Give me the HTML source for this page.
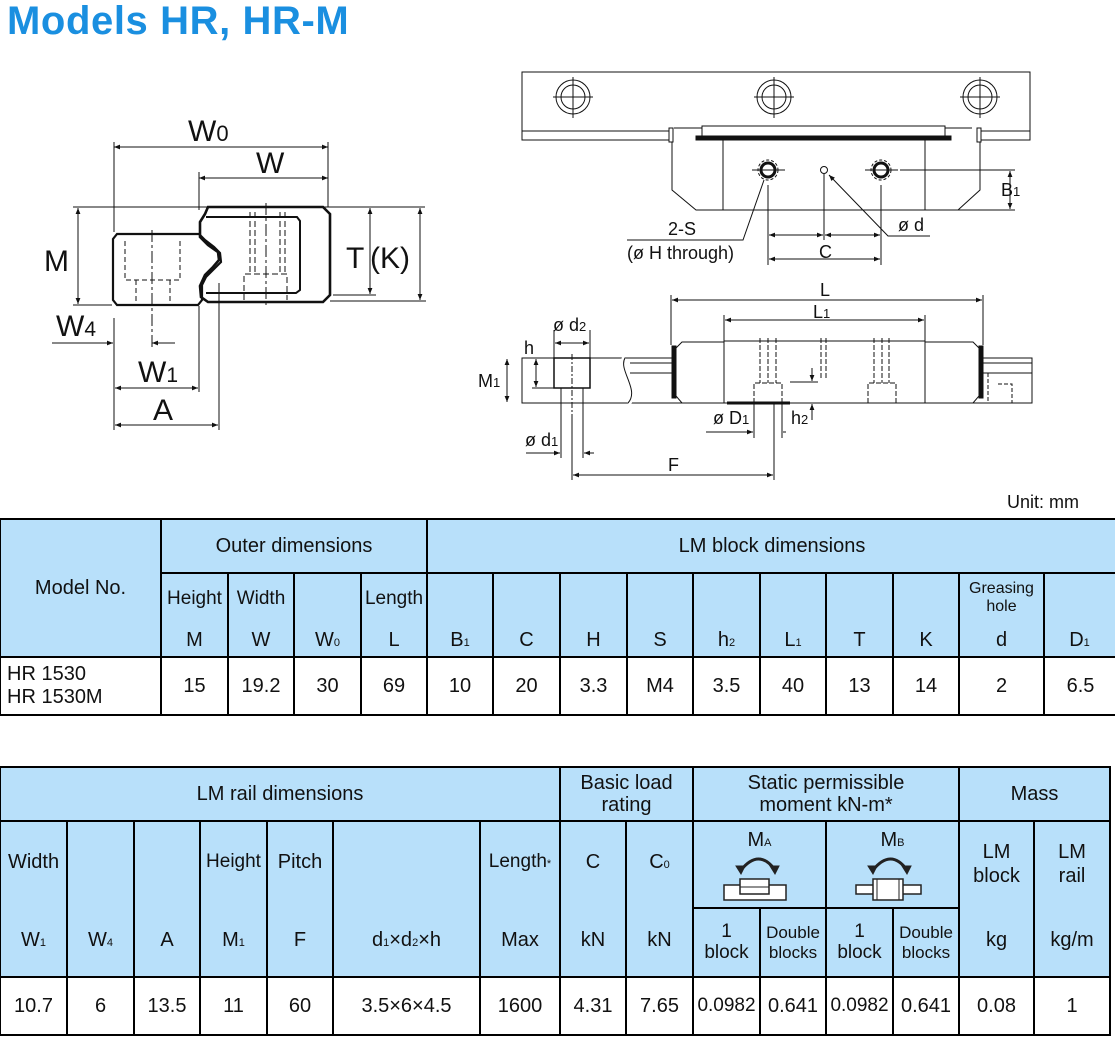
<!DOCTYPE html>
<html><head><meta charset="utf-8"><style>
body{margin:0;width:1115px;height:1042px;background:#fff;position:relative;overflow:hidden;font-family:"Liberation Sans",Arial,sans-serif;color:#111}
.c{position:absolute;box-sizing:border-box;border:2px solid #000;display:flex;align-items:center;justify-content:center;text-align:center;font-size:20px;line-height:1.1}
.h{background:#b8e0fa}
.t{position:absolute;font-size:20px;text-align:center;white-space:nowrap;line-height:1}
.s{font-size:11px}
.sm{font-size:17px}
</style></head><body>
<div style="position:absolute;left:7px;top:-1px;font-size:40px;font-weight:bold;color:#1a8fe0;letter-spacing:0.6px">Models HR<span>,</span> HR-M</div>
<div class="t" style="left:1007px;top:493px;font-size:18px">Unit: mm</div>

<svg width="1115" height="510" style="position:absolute;left:0;top:0" font-family="Liberation Sans, Arial, sans-serif" fill="none" stroke="#111" stroke-width="1">
<defs><marker id="a" viewBox="0 0 10 10" refX="10" refY="5" markerWidth="9" markerHeight="6" orient="auto-start-reverse"><path d="M0,1 L10,5 L0,9z" fill="#111" stroke="none"/></marker></defs>
<!-- LEFT DRAWING -->
<g>
<line x1="114" y1="147" x2="328" y2="147" marker-start="url(#a)" marker-end="url(#a)"/>
<line x1="199" y1="178" x2="328" y2="178" marker-start="url(#a)" marker-end="url(#a)"/>
<line x1="114" y1="142" x2="114" y2="232"/><line x1="328" y1="142" x2="328" y2="207"/>
<line x1="199" y1="172" x2="199" y2="210"/>
<line x1="73" y1="207" x2="425" y2="207"/>
<line x1="73" y1="305" x2="112" y2="305"/>
<line x1="78" y1="208" x2="78" y2="304" marker-start="url(#a)" marker-end="url(#a)"/>
<line x1="333" y1="295" x2="376" y2="295"/><line x1="330" y1="301" x2="426" y2="301"/>
<line x1="370" y1="208" x2="370" y2="294" marker-start="url(#a)" marker-end="url(#a)"/>
<line x1="420" y1="208" x2="420" y2="300" marker-start="url(#a)" marker-end="url(#a)"/>
<path d="M117,234 L199,234 L205,240 L214,247 L220,253 L221,262 L214,269 L206,277 L202,285 L202,300 L198,305 L117,305 L113,300 L113,239 Z" stroke-width="2.2"/>
<path d="M125,241 V280 H180 V241" stroke-dasharray="5,3"/>
<path d="M136,280 V304 M170,280 V304" stroke-dasharray="5,3"/>
<line x1="152" y1="230" x2="152" y2="348" stroke-dasharray="12,3,3,3"/>
<path d="M208,207 L323,207 L330,214 L330,295 L323,302 L208,302 L201,297 L200,286 L205,275 L213,267 L219,260 L218,252 L208,245 L200,237 L200,222 L205,214 Z" stroke-width="2.6"/>
<path d="M206,217 L297,217 L300,221 L300,290 L296,293 L206,293" stroke-width="2"/>
<path d="M250,212 V273 M255,212 V273 M280,212 V273 M285,212 V273" stroke-dasharray="6,3"/>
<path d="M244,300 V274 H287 V300" stroke-dasharray="6,3"/>
<line x1="266" y1="203" x2="266" y2="306" stroke-dasharray="12,3,3,3"/>
<line x1="114" y1="318" x2="114" y2="430"/>
<line x1="199" y1="306" x2="199" y2="392"/>
<line x1="219" y1="283" x2="219" y2="430"/>
<line x1="52" y1="343" x2="113" y2="343" marker-end="url(#a)"/>
<line x1="152" y1="343" x2="175" y2="343" marker-start="url(#a)"/>
<line x1="115" y1="388" x2="198" y2="388" marker-start="url(#a)" marker-end="url(#a)"/>
<line x1="115" y1="425" x2="218" y2="425" marker-start="url(#a)" marker-end="url(#a)"/>
</g>
<g fill="#111" stroke="none" font-size="30">
<text x="188" y="141">W<tspan font-size="22">0</tspan></text>
<text x="256" y="173">W</text>
<text x="44" y="271">M</text>
<text x="346" y="268">T</text><text x="370" y="268">(K)</text>
<text x="56" y="336">W<tspan font-size="21">4</tspan></text>
<text x="138" y="382">W<tspan font-size="21">1</tspan></text>
<text x="153" y="420">A</text>
</g>
<!-- TOP RIGHT -->
<g>
<rect x="522" y="72" width="508" height="68"/>
<line x1="522" y1="131" x2="1030" y2="131"/>
<circle cx="573" cy="97" r="17"/><circle cx="573" cy="97" r="12"/><line x1="553" y1="97" x2="593" y2="97"/><line x1="573" y1="77" x2="573" y2="118"/>
<circle cx="774" cy="97" r="17"/><circle cx="774" cy="97" r="12"/><line x1="754" y1="97" x2="794" y2="97"/><line x1="774" y1="77" x2="774" y2="118"/>
<circle cx="980" cy="97" r="17"/><circle cx="980" cy="97" r="12"/><line x1="960" y1="97" x2="1000" y2="97"/><line x1="980" y1="77" x2="980" y2="118"/>
<path d="M672,128 L672,190 L696,210 L958,210 L980,190 L980,128" fill="#fff"/>
<path d="M674,128 L972,128" />
<rect x="669" y="128" width="4" height="14" fill="#fff"/><rect x="977" y="128" width="4" height="14" fill="#fff"/>
<rect x="702" y="126" width="243" height="10" fill="#fff"/>
<rect x="696" y="136" width="255" height="4" fill="#111"/>
<rect x="723" y="140" width="202" height="70" fill="#fff"/>
<circle cx="768" cy="170" r="7" stroke-width="3"/><circle cx="768" cy="170" r="10" stroke-dasharray="3,2"/>
<circle cx="881" cy="170" r="7" stroke-width="3"/><circle cx="881" cy="170" r="10" stroke-dasharray="3,2"/>
<circle cx="824" cy="170" r="3.5"/>
<line x1="752" y1="170" x2="785" y2="170"/><line x1="865" y1="170" x2="898" y2="170"/>
<line x1="768" y1="185" x2="768" y2="265"/><line x1="881" y1="185" x2="881" y2="265"/><line x1="824" y1="174" x2="824" y2="240"/>
<line x1="900" y1="170" x2="1015" y2="170"/><line x1="930" y1="210" x2="1015" y2="210"/>
<line x1="1010" y1="171" x2="1010" y2="209" marker-start="url(#a)" marker-end="url(#a)"/>
<line x1="769" y1="235" x2="823" y2="235" marker-start="url(#a)" marker-end="url(#a)"/>
<line x1="825" y1="235" x2="880" y2="235" marker-start="url(#a)" marker-end="url(#a)"/>
<line x1="769" y1="259" x2="880" y2="259" marker-start="url(#a)" marker-end="url(#a)"/>
<polyline points="829,175 888,236 930,236" marker-start="url(#a)"/>
<polyline points="627,240 743,240 764,180"/>
</g>
<g fill="#111" stroke="none" font-size="18">
<text x="1001" y="196">B<tspan font-size="13">1</tspan></text>
<text x="898" y="231">ø d</text>
<text x="819" y="258">C</text>
<text x="668" y="235">2-S</text>
<text x="627" y="259">(ø H through)</text>
</g>
<!-- BOTTOM RIGHT -->
<g>
<line x1="671" y1="295" x2="671" y2="345"/><line x1="983" y1="295" x2="983" y2="345"/>
<line x1="672" y1="300" x2="982" y2="300" marker-start="url(#a)" marker-end="url(#a)"/>
<line x1="724" y1="315" x2="724" y2="341"/><line x1="925" y1="315" x2="925" y2="341"/>
<line x1="725" y1="320" x2="924" y2="320" marker-start="url(#a)" marker-end="url(#a)"/>
<rect x="522" y="358" width="510" height="45"/>
<path d="M625,358 C618,370 640,390 628,403" fill="#fff" stroke="#fff" stroke-width="6"/>
<path d="M625,358 C618,370 640,390 628,403"/>
<path d="M630,363 L672,363 M630,373 L672,373 M983,363 L1032,363 M983,373 L1032,373"/>
<path d="M676,348 L682,342 L724,342 L724,403 L682,403 L676,396 Z" fill="#fff"/>
<path d="M979,348 L973,342 L925,342 L925,403 L973,403 L979,396 Z" fill="#fff"/>
<rect x="724" y="341" width="201" height="62" fill="#fff"/>
<rect x="672" y="346" width="4" height="52" fill="#111"/><rect x="979" y="346" width="4" height="52" fill="#111"/>
<path d="M760,338 V383 M768,338 V383 M776,338 V383 M874,338 V383 M882,338 V383 M889,338 V383" stroke-dasharray="5,2"/>
<path d="M754,403 V383 H782 V403 M868,403 V383 H896 V403" stroke-dasharray="5,2"/>
<path d="M821,338 V378 M826,338 V378" stroke-dasharray="5,2"/>
<path d="M988,373 V403 M998,384 H1012 V403" stroke-dasharray="4,2"/>
<line x1="727" y1="403" x2="790" y2="403" stroke-width="3"/>
<line x1="554" y1="330" x2="554" y2="373"/><line x1="590" y1="330" x2="590" y2="373"/>
<line x1="555" y1="343" x2="589" y2="343" marker-start="url(#a)" marker-end="url(#a)"/>
<rect x="554" y="358" width="36" height="30" stroke-width="1.5"/>
<rect x="561" y="388" width="22" height="15"/>
<line x1="572" y1="354" x2="572" y2="420" stroke-dasharray="6,2,2,2"/>
<line x1="532" y1="388" x2="554" y2="388"/>
<line x1="536" y1="359" x2="536" y2="387" marker-start="url(#a)" marker-end="url(#a)"/>
<line x1="507" y1="359" x2="507" y2="402" marker-start="url(#a)" marker-end="url(#a)"/>
<line x1="561" y1="403" x2="561" y2="458"/><line x1="583" y1="403" x2="583" y2="458"/>
<line x1="526" y1="453" x2="560" y2="453" marker-end="url(#a)"/><line x1="584" y1="453" x2="594" y2="453" marker-start="url(#a)"/>
<line x1="572" y1="420" x2="572" y2="480"/>
<line x1="774" y1="403" x2="774" y2="480"/>
<line x1="573" y1="475" x2="773" y2="475" marker-start="url(#a)" marker-end="url(#a)"/>
<line x1="754" y1="403" x2="754" y2="438"/><line x1="782" y1="403" x2="782" y2="438"/>
<line x1="706" y1="432" x2="753" y2="432" marker-end="url(#a)"/><line x1="783" y1="432" x2="786" y2="432"/>
<line x1="790" y1="382" x2="818" y2="382"/>
<line x1="812" y1="368" x2="812" y2="381" marker-end="url(#a)"/>
<line x1="812" y1="420" x2="812" y2="404" marker-end="url(#a)"/>
</g>
<g fill="#111" stroke="none" font-size="18">
<text x="820" y="296">L</text>
<text x="813" y="318">L<tspan font-size="13">1</tspan></text>
<text x="553" y="331">ø d<tspan font-size="13">2</tspan></text>
<text x="524" y="354">h</text>
<text x="478" y="387">M<tspan font-size="13">1</tspan></text>
<text x="525" y="446">ø d<tspan font-size="13">1</tspan></text>
<text x="713" y="424">ø D<tspan font-size="13">1</tspan></text>
<text x="791" y="424">h<tspan font-size="13">2</tspan></text>
<text x="668" y="471">F</text>
</g>
</svg>

<!-- TABLE 1 -->
<div class="c h" style="left:-1px;top:518px;width:163px;height:140px">Model No.</div>
<div class="c h" style="left:160px;top:518px;width:268px;height:56px">Outer dimensions</div>
<div class="c h" style="left:426px;top:518px;width:692px;height:56px">LM block dimensions</div>

<div class="c h" style="left:160px;top:572px;width:69px;height:86px"></div><div class="t" style="left:161px;width:67px;top:589px;font-size:19px">Height</div><div class="t" style="left:161px;width:67px;top:630px">M</div>
<div class="c h" style="left:227px;top:572px;width:68px;height:86px"></div><div class="t" style="left:228px;width:66px;top:589px;font-size:19px">Width</div><div class="t" style="left:228px;width:66px;top:630px">W</div>
<div class="c h" style="left:293px;top:572px;width:69px;height:86px"></div><div class="t" style="left:294px;width:67px;top:630px">W<span class="s">0</span></div>
<div class="c h" style="left:360px;top:572px;width:68px;height:86px"></div><div class="t" style="left:361px;width:66px;top:589px;font-size:19px">Length</div><div class="t" style="left:361px;width:66px;top:630px">L</div>
<div class="c h" style="left:426px;top:572px;width:68px;height:86px"></div><div class="t" style="left:427px;width:66px;top:630px">B<span class="s">1</span></div>
<div class="c h" style="left:492px;top:572px;width:69px;height:86px"></div><div class="t" style="left:493px;width:67px;top:630px">C</div>
<div class="c h" style="left:559px;top:572px;width:69px;height:86px"></div><div class="t" style="left:560px;width:67px;top:630px">H</div>
<div class="c h" style="left:626px;top:572px;width:68px;height:86px"></div><div class="t" style="left:627px;width:66px;top:630px">S</div>
<div class="c h" style="left:692px;top:572px;width:69px;height:86px"></div><div class="t" style="left:693px;width:67px;top:630px">h<span class="s">2</span></div>
<div class="c h" style="left:759px;top:572px;width:68px;height:86px"></div><div class="t" style="left:760px;width:66px;top:630px">L<span class="s">1</span></div>
<div class="c h" style="left:825px;top:572px;width:69px;height:86px"></div><div class="t" style="left:826px;width:67px;top:630px">T</div>
<div class="c h" style="left:892px;top:572px;width:68px;height:86px"></div><div class="t" style="left:893px;width:66px;top:630px">K</div>
<div class="c h" style="left:958px;top:572px;width:87px;height:86px"></div><div class="t" style="left:959px;width:85px;top:580px;font-size:16px;line-height:1.15">Greasing<br>hole</div><div class="t" style="left:959px;width:85px;top:630px">d</div>
<div class="c h" style="left:1043px;top:572px;width:75px;height:86px"></div><div class="t" style="left:1044px;width:71px;top:630px">D<span class="s">1</span></div>

<div class="c" style="left:-1px;top:656px;width:163px;height:60px;justify-content:flex-start;text-align:left;padding-left:6px;line-height:1.15">HR 1530<br>HR 1530M</div>
<div class="c" style="left:160px;top:656px;width:69px;height:60px">15</div>
<div class="c" style="left:227px;top:656px;width:68px;height:60px">19.2</div>
<div class="c" style="left:293px;top:656px;width:69px;height:60px">30</div>
<div class="c" style="left:360px;top:656px;width:68px;height:60px">69</div>
<div class="c" style="left:426px;top:656px;width:68px;height:60px">10</div>
<div class="c" style="left:492px;top:656px;width:69px;height:60px">20</div>
<div class="c" style="left:559px;top:656px;width:69px;height:60px">3.3</div>
<div class="c" style="left:626px;top:656px;width:68px;height:60px">M4</div>
<div class="c" style="left:692px;top:656px;width:69px;height:60px">3.5</div>
<div class="c" style="left:759px;top:656px;width:68px;height:60px">40</div>
<div class="c" style="left:825px;top:656px;width:69px;height:60px">13</div>
<div class="c" style="left:892px;top:656px;width:68px;height:60px">14</div>
<div class="c" style="left:958px;top:656px;width:87px;height:60px">2</div>
<div class="c" style="left:1043px;top:656px;width:75px;height:60px">6.5</div>

<!-- TABLE 2 -->
<div class="c h" style="left:-1px;top:766px;width:562px;height:56px">LM rail dimensions</div>
<div class="c h" style="left:559px;top:766px;width:135px;height:56px">Basic load<br>rating</div>
<div class="c h" style="left:692px;top:766px;width:268px;height:56px">Static permissible<br>moment kN-m*</div>
<div class="c h" style="left:958px;top:766px;width:153px;height:56px">Mass</div>

<div class="c h" style="left:-1px;top:820px;width:69px;height:158px"></div><div class="t" style="left:0;width:67px;top:852px">Width</div><div class="t" style="left:0;width:67px;top:930px">W<span class="s">1</span></div>
<div class="c h" style="left:66px;top:820px;width:69px;height:158px"></div><div class="t" style="left:67px;width:67px;top:930px">W<span class="s">4</span></div>
<div class="c h" style="left:133px;top:820px;width:68px;height:158px"></div><div class="t" style="left:134px;width:66px;top:930px">A</div>
<div class="c h" style="left:199px;top:820px;width:69px;height:158px"></div><div class="t" style="left:200px;width:67px;top:852px;font-size:19px">Height</div><div class="t" style="left:200px;width:67px;top:930px">M<span class="s">1</span></div>
<div class="c h" style="left:266px;top:820px;width:68px;height:158px"></div><div class="t" style="left:267px;width:66px;top:852px">Pitch</div><div class="t" style="left:267px;width:66px;top:930px">F</div>
<div class="c h" style="left:332px;top:820px;width:149px;height:158px"></div><div class="t" style="left:333px;width:147px;top:930px">d<span class="s">1</span>×d<span class="s">2</span>×h</div>
<div class="c h" style="left:479px;top:820px;width:82px;height:158px"></div><div class="t" style="left:480px;width:80px;top:852px;font-size:19px">Length<span class="s">*</span></div><div class="t" style="left:480px;width:80px;top:930px">Max</div>
<div class="c h" style="left:559px;top:820px;width:68px;height:158px"></div><div class="t" style="left:560px;width:66px;top:852px">C</div><div class="t" style="left:560px;width:66px;top:930px">kN</div>
<div class="c h" style="left:625px;top:820px;width:69px;height:158px"></div><div class="t" style="left:626px;width:67px;top:852px">C<span class="s">0</span></div><div class="t" style="left:626px;width:67px;top:930px">kN</div>

<div class="c h" style="left:692px;top:820px;width:135px;height:89px"></div>
<div class="c h" style="left:825px;top:820px;width:135px;height:89px"></div>
<div class="t" style="left:693px;width:133px;top:830px">M<span class="s">A</span></div>
<div class="t" style="left:826px;width:133px;top:830px">M<span class="s">B</span></div>
<svg width="1115" height="1042" style="position:absolute;left:0;top:0" fill="none" stroke="#222">
<path d="M741,870 Q759,848 775,870" stroke-width="3"/><path d="M736,866 L741,874 L745,866Z M770,866 L775,874 L779,866Z" fill="#222" stroke-width="1"/>
<rect x="724" y="885" width="62" height="15" fill="#fff" stroke-width="1.5"/>
<rect x="740" y="879" width="29" height="15" fill="#fff" stroke-width="1.5"/><line x1="740" y1="887" x2="769" y2="887"/>
<path d="M873,870 Q891,848 907,870" stroke-width="3"/><path d="M868,866 L873,874 L877,866Z M902,866 L907,874 L911,866Z" fill="#222" stroke-width="1"/>
<rect x="856" y="885" width="65" height="9" fill="#fff" stroke-width="1.5"/>
<rect x="873" y="879" width="30" height="21" fill="#fff" stroke-width="1.5"/>
<line x1="877" y1="879" x2="877" y2="900"/><line x1="899" y1="879" x2="899" y2="900"/>
</svg>
<div class="c h" style="left:692px;top:907px;width:69px;height:71px;font-size:19px">1<br>block</div>
<div class="c h" style="left:759px;top:907px;width:68px;height:71px;font-size:17px;line-height:1.15">Double<br>blocks</div>
<div class="c h" style="left:825px;top:907px;width:69px;height:71px;font-size:19px">1<br>block</div>
<div class="c h" style="left:892px;top:907px;width:68px;height:71px;font-size:17px;line-height:1.15">Double<br>blocks</div>

<div class="c h" style="left:958px;top:820px;width:77px;height:158px"></div><div class="t" style="left:959px;width:75px;top:840px;line-height:1.2">LM<br>block</div><div class="t" style="left:959px;width:75px;top:930px">kg</div>
<div class="c h" style="left:1033px;top:820px;width:78px;height:158px"></div><div class="t" style="left:1034px;width:76px;top:840px;line-height:1.2">LM<br>rail</div><div class="t" style="left:1034px;width:76px;top:930px">kg/m</div>

<div class="c" style="left:-1px;top:976px;width:69px;height:60px">10.7</div>
<div class="c" style="left:66px;top:976px;width:69px;height:60px">6</div>
<div class="c" style="left:133px;top:976px;width:68px;height:60px">13.5</div>
<div class="c" style="left:199px;top:976px;width:69px;height:60px">11</div>
<div class="c" style="left:266px;top:976px;width:68px;height:60px">60</div>
<div class="c" style="left:332px;top:976px;width:149px;height:60px">3.5×6×4.5</div>
<div class="c" style="left:479px;top:976px;width:82px;height:60px">1600</div>
<div class="c" style="left:559px;top:976px;width:68px;height:60px">4.31</div>
<div class="c" style="left:625px;top:976px;width:69px;height:60px">7.65</div>
<div class="c" style="left:692px;top:976px;width:69px;height:60px;font-size:19px">0.0982</div>
<div class="c" style="left:759px;top:976px;width:68px;height:60px">0.641</div>
<div class="c" style="left:825px;top:976px;width:69px;height:60px;font-size:19px">0.0982</div>
<div class="c" style="left:892px;top:976px;width:68px;height:60px">0.641</div>
<div class="c" style="left:958px;top:976px;width:77px;height:60px">0.08</div>
<div class="c" style="left:1033px;top:976px;width:78px;height:60px">1</div>
</body></html>
